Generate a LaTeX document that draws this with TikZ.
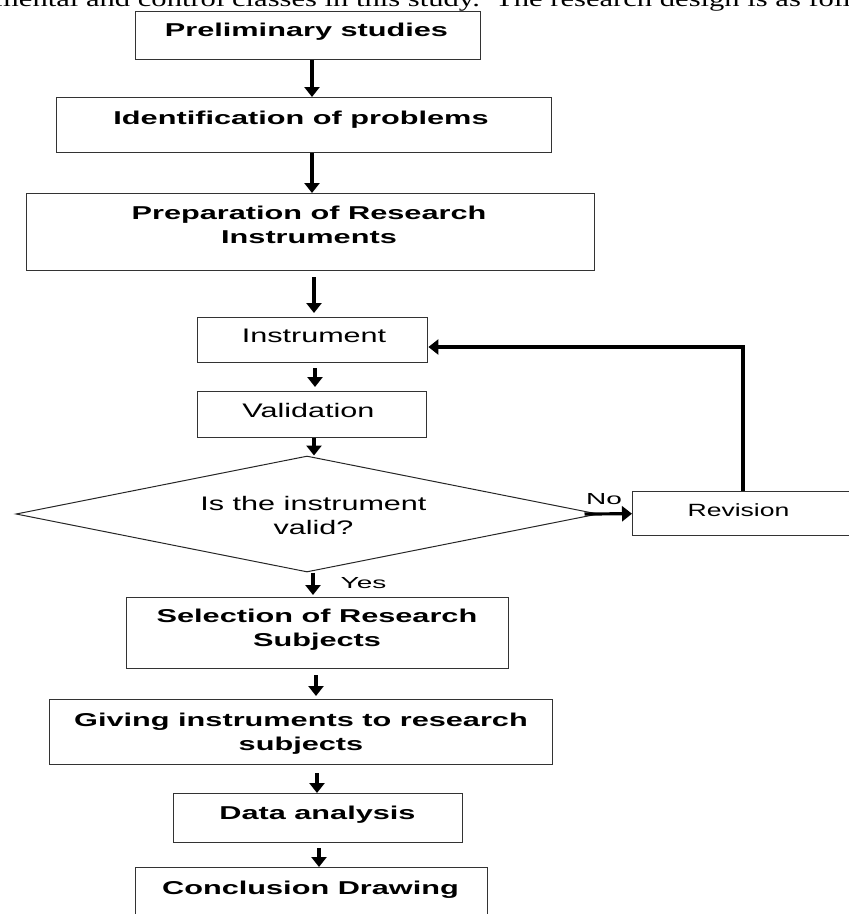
\documentclass[tikz,border=0pt]{standalone}
\usepackage{fontspec}
\usepackage{graphicx}
\setmainfont{Liberation Sans}
\newfontfamily\topserif{Liberation Serif}
\usetikzlibrary{arrows.meta,shapes.geometric}
\newcommand{\sxb}[1]{\scalebox{1.65}[1]{#1}}
\newcommand{\sxr}[1]{\scalebox{1.56}[1]{#1}}
\newcommand{\sxv}[1]{\scalebox{1.5}[1]{#1}}
\newcommand{\sxy}[1]{\scalebox{1.75}[1]{#1}}
\tikzset{
  box/.style={draw=black!80, line width=1.4pt, rectangle, inner sep=0pt},
  dia/.style={draw=black!85, line width=1pt, diamond, inner sep=0pt, minimum width=582pt, minimum height=116pt},
  arr/.style={line width=3.2pt, -{Triangle[width=15pt,length=10pt]}},
  bt/.style={font=\bfseries\fontsize{18.6}{24}\selectfont, align=center, inner sep=0pt, anchor=base},
  rt/.style={font=\fontsize{19.6}{24}\selectfont, align=center, inner sep=0pt, anchor=base},
  st/.style={font=\fontsize{17.7}{24}\selectfont, inner sep=0pt, anchor=base},
  yt/.style={font=\fontsize{16}{20}\selectfont, inner sep=0pt, anchor=base},
}
\begin{document}
\begin{tikzpicture}[x=1pt,y=-1pt]
\useasboundingbox (0,0) rectangle (849,914);
\clip (0,0) rectangle (849,914);
% running text line at top
\node[font=\topserif\fontsize{22}{24}\selectfont, inner sep=0pt, anchor=base west] (runtext) at (-5,6.5)
  {\scalebox{1.39}[1]{mental and control classes in this study.\ \ The research design is as follows:}};
% boxes
\node[box, minimum width=345pt, minimum height=48pt, anchor=north west] (prelim) at (135,11) {};
\node[box, minimum width=495pt, minimum height=55pt, anchor=north west] (ident) at (56,97) {};
\node[box, minimum width=568pt, minimum height=77pt, anchor=north west] (prep) at (26,193) {};
\node[box, minimum width=230pt, minimum height=45pt, anchor=north west] (instr) at (197,317) {};
\node[box, minimum width=229pt, minimum height=46pt, anchor=north west] (valid) at (197,391) {};
\node[dia] (check) at (307,514) {};
\node[box, minimum width=228pt, minimum height=44pt, anchor=north west] (rev) at (632,491) {};
\node[box, minimum width=382pt, minimum height=71pt, anchor=north west] (select) at (126,597) {};
\node[box, minimum width=503pt, minimum height=65pt, anchor=north west] (giving) at (49,699) {};
\node[box, minimum width=289pt, minimum height=49pt, anchor=north west] (data) at (173,793) {};
\node[box, minimum width=352pt, minimum height=63pt, anchor=north west] (concl) at (135,867) {};
% texts
\node[bt] (tprelim) at (306.5,36.7) {\sxb{Preliminary studies}};
\node[bt] (tident) at (301,124) {\sxb{Identification of problems}};
\node[bt] (tprep) at (309,243) {\sxb{Preparation of Research}\\\sxb{Instruments}};
\node[rt] (tinstr) at (314,342.7) {\sxr{Instrument}};
\node[rt] (tvalid) at (308.5,417) {\sxr{Validation}};
\node[rt] (tcheck) at (313.5,534) {\sxr{Is the instrument}\\\sxr{valid?}};
\node[st] (trev) at (738.5,516) {\sxv{Revision}};
\node[yt] (tno) at (604,504) {\sxy{No}};
\node[yt] (tyes) at (363.5,588) {\sxy{Yes}};
\node[bt] (tselect) at (317,646) {\sxb{Selection of Research}\\\sxb{Subjects}};
\node[bt] (tgiving) at (301,750) {\sxb{Giving instruments to research}\\\sxb{subjects}};
\node[bt] (tdata) at (317.5,819) {\sxb{Data analysis}};
\node[bt] (tconcl) at (310.5,894) {\sxb{Conclusion Drawing}};
% connectors
\draw[arr] (prelim.south -| 312,0) -- (ident.north -| 312,0);
\draw[arr] (ident.south -| 312,0) -- (prep.north -| 312,0);
\draw[arr, shorten <=6pt, shorten >=4pt] (prep.south -| 314,0) -- (instr.north -| 314,0);
\draw[arr, shorten <=5pt, shorten >=4pt] (instr.south -| 315,0) -- (valid.north -| 315,0);
\draw[arr] (valid.south -| 314,0) -- (check.north -| 314,0);
\coordinate (nostart) at ([xshift=-14pt]check.east);
\draw[arr] (nostart) -- (rev.west);
\draw[arr, line width=3.6pt] (rev.north -| 743,0) |- (instr.east |- 0,347);
\draw[arr, shorten >=2pt] (check.south -| 313,0) -- (select.north -| 313,0);
\draw[arr, shorten <=6pt, shorten >=3pt] (select.south -| 316,0) -- (giving.north -| 316,0);
\draw[arr, shorten <=8pt] (giving.south -| 317,0) -- (data.north -| 317,0);
\draw[arr, shorten <=5pt] (data.south -| 319,0) -- (concl.north -| 319,0);
\end{tikzpicture}
\end{document}
